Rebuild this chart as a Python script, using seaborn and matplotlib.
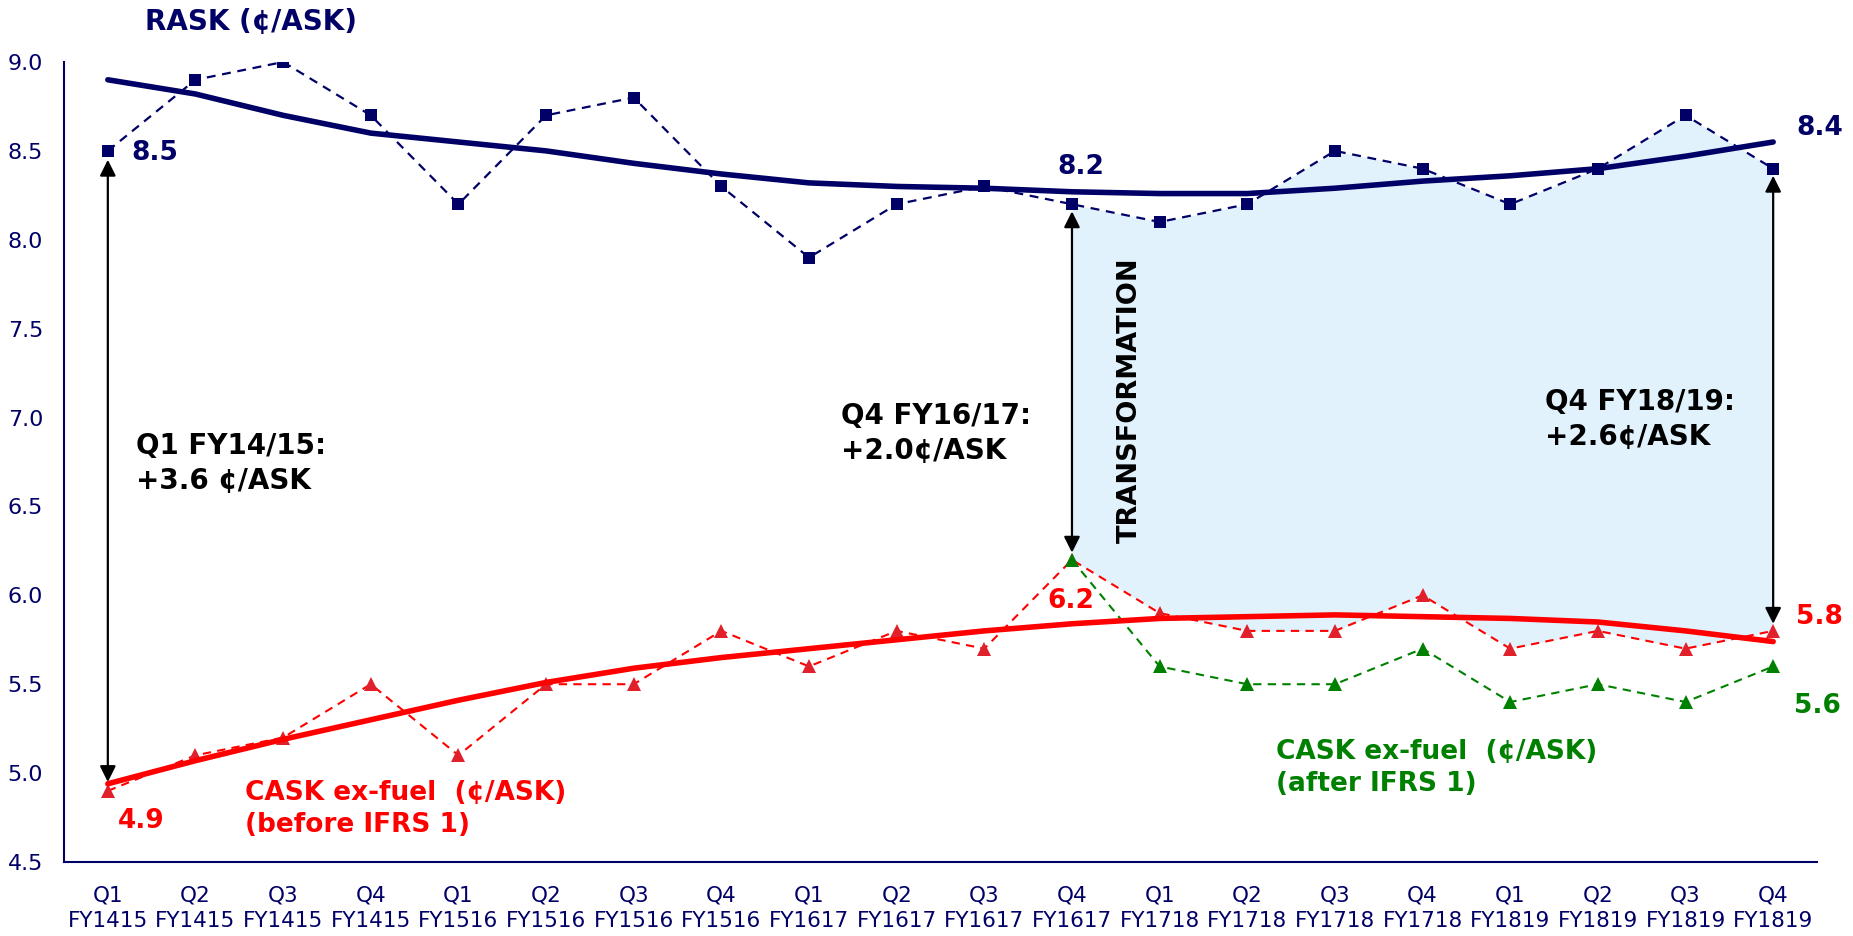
import numpy as np
import pandas as pd
import matplotlib
matplotlib.use("Agg")
import matplotlib.pyplot as plt
import seaborn as sns

# ---------------- data ----------------
quarters = ["Q1", "Q2", "Q3", "Q4"] * 5
fiscal_years = (["FY1415"] * 4 + ["FY1516"] * 4 + ["FY1617"] * 4 +
                ["FY1718"] * 4 + ["FY1819"] * 4)
tick_labels = [f"{q}\n{fy}" for q, fy in zip(quarters, fiscal_years)]

rask = [8.5, 8.9, 9.0, 8.7, 8.2, 8.7, 8.8, 8.3, 7.9, 8.2,
        8.3, 8.2, 8.1, 8.2, 8.5, 8.4, 8.2, 8.4, 8.7, 8.4]
rask_trend = [8.90, 8.82, 8.70, 8.60, 8.55, 8.50, 8.43, 8.37, 8.32, 8.30,
              8.29, 8.27, 8.26, 8.26, 8.29, 8.33, 8.36, 8.40, 8.47, 8.55]

cask_before = [4.9, 5.1, 5.2, 5.5, 5.1, 5.5, 5.5, 5.8, 5.6, 5.8,
               5.7, 6.2, 5.9, 5.8, 5.8, 6.0, 5.7, 5.8, 5.7, 5.8]
cask_trend = [4.94, 5.07, 5.19, 5.30, 5.41, 5.51, 5.59, 5.65, 5.70, 5.75,
              5.80, 5.84, 5.87, 5.88, 5.89, 5.88, 5.87, 5.85, 5.80, 5.74]

cask_after_start = 11
cask_after = [6.2, 5.6, 5.5, 5.5, 5.7, 5.4, 5.5, 5.4, 5.6]

# ---------------- style ----------------
NAVY = "#000066"
RED = "#FF0000"
RED_MK = "#E0202A"
GREEN = "#008000"
FILL = "#E1F2FD"

sns.set_style("white")
plt.rcParams["font.family"] = ["DejaVu Sans"]

x = np.arange(len(rask))
df = pd.DataFrame({"x": x, "rask": rask, "rask_trend": rask_trend,
                   "cask": cask_before, "cask_trend": cask_trend})
x_after = np.arange(cask_after_start, cask_after_start + len(cask_after))
df_after = pd.DataFrame({"x": x_after, "cask_after": cask_after})

fig = plt.figure(figsize=(18.53, 9.36), dpi=100)
ax = fig.add_axes([64 / 1853, 74 / 936, (1817 - 64) / 1853, (862 - 62) / 936])

# shaded transformation area
sub = df[df.x >= cask_after_start]
ax.fill_between(sub.x, sub.cask, sub.rask, color=FILL, lw=0, zorder=1)

# dashed series
sns.lineplot(data=df, x="x", y="rask", ax=ax, color=NAVY, lw=1.6,
             linestyle=(0, (4, 3)), marker="s", markersize=9,
             markeredgewidth=0, markerfacecolor=NAVY, zorder=3)
sns.lineplot(data=df, x="x", y="cask", ax=ax, color=RED, lw=1.5,
             linestyle=(0, (4, 3)), marker="^", markersize=10.5,
             markeredgewidth=0, markerfacecolor=RED_MK, zorder=3)
sns.lineplot(data=df_after, x="x", y="cask_after", ax=ax, color=GREEN, lw=1.5,
             linestyle=(0, (4, 3)), marker="^", markersize=10.5,
             markeredgewidth=0, markerfacecolor=GREEN, zorder=4)

# trend lines
sns.lineplot(data=df, x="x", y="rask_trend", ax=ax, color=NAVY, lw=4,
             solid_capstyle="round", solid_joinstyle="round", zorder=5)
sns.lineplot(data=df, x="x", y="cask_trend", ax=ax, color=RED, lw=4,
             solid_capstyle="round", solid_joinstyle="round", zorder=5)

# arrows
arrow_kw = dict(arrowstyle="<|-|>", color="black", lw=1.6,
                mutation_scale=24, shrinkA=0, shrinkB=0)
ax.annotate("", xy=(0, 4.95), xytext=(0, 8.45), arrowprops=arrow_kw, zorder=6)
ax.annotate("", xy=(11, 6.24), xytext=(11, 8.16), arrowprops=arrow_kw, zorder=6)
ax.annotate("", xy=(19, 5.84), xytext=(19, 8.36), arrowprops=arrow_kw, zorder=6)

# texts
num = dict(fontweight="bold", fontsize=19)
bold = dict(fontweight="bold", fontsize=20)
ax.text(0.42, 9.225, "RASK (¢/ASK)", color=NAVY, ha="left", va="center",
        clip_on=False, **bold)
ax.text(0.27, 8.49, "8.5", color=NAVY, ha="left", va="center", **num)
ax.text(11.1, 8.41, "8.2", color=NAVY, ha="center", va="center", **num)
ax.text(19.26, 8.63, "8.4", color=NAVY, ha="left", va="center",
        clip_on=False, **num)
ax.text(0.11, 4.73, "4.9", color=RED, ha="left", va="center", **num)
ax.text(10.99, 5.97, "6.2", color=RED, ha="center", va="center", **num)
ax.text(19.26, 5.88, "5.8", color=RED, ha="left", va="center",
        clip_on=False, **num)
ax.text(19.24, 5.38, "5.6", color=GREEN, ha="left", va="center",
        clip_on=False, **num)

ax.text(1.56, 4.80, "CASK ex-fuel  (¢/ASK)\n(before IFRS 1)", color=RED,
        ha="left", va="center", linespacing=1.3, fontweight="bold", fontsize=19)
ax.text(13.33, 5.03, "CASK ex-fuel  (¢/ASK)\n(after IFRS 1)", color=GREEN,
        ha="left", va="center", linespacing=1.3, fontweight="bold", fontsize=19)

ax.text(0.32, 6.74, "Q1 FY14/15:\n+3.6 ¢/ASK", color="black",
        ha="left", va="center", linespacing=1.3, **bold)
ax.text(8.37, 6.91, "Q4 FY16/17:\n+2.0¢/ASK", color="black",
        ha="left", va="center", linespacing=1.3, **bold)
ax.text(16.40, 6.99, "Q4 FY18/19:\n+2.6¢/ASK", color="black",
        ha="left", va="center", linespacing=1.3, **bold)
ax.text(11.66, 7.10, "TRANSFORMATION", color="black", rotation=90,
        ha="center", va="center", fontweight="bold", fontsize=19.5)

# axes
ax.set_xlim(-0.5, 19.5)
ax.set_ylim(4.5, 9.0)
ax.set_yticks(np.arange(4.5, 9.01, 0.5))
ax.set_yticklabels([f"{v:.1f}" for v in np.arange(4.5, 9.01, 0.5)])
ax.set_xticks(x)
ax.set_xticklabels(tick_labels)
for lab in ax.get_xticklabels():
    lab.set_linespacing(1.35)
ax.tick_params(axis="x", length=0, pad=17, labelsize=15.5, labelcolor=NAVY)
ax.tick_params(axis="y", length=0, pad=15, labelsize=16, labelcolor=NAVY)
ax.set_xlabel("")
ax.set_ylabel("")
for s in ["top", "right"]:
    ax.spines[s].set_visible(False)
for s in ["left", "bottom"]:
    ax.spines[s].set_color(NAVY)
    ax.spines[s].set_linewidth(1.5)
ax.grid(False)
if ax.get_legend() is not None:
    ax.get_legend().remove()

fig.savefig("out.png", dpi=100)
